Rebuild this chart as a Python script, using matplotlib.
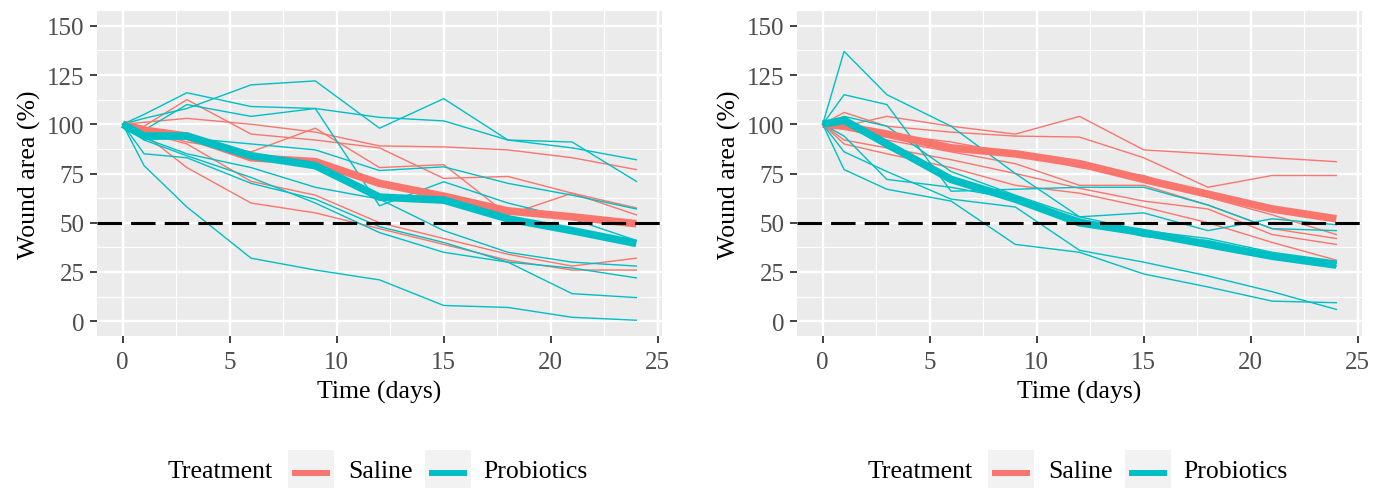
import matplotlib
matplotlib.use("Agg")
import matplotlib.pyplot as plt
from matplotlib.patches import Rectangle
from matplotlib.lines import Line2D

plt.rcParams['font.family'] = ['Liberation Serif', 'DejaVu Serif']

# sampling days
days = [0, 1, 3, 6, 9, 12, 15, 18, 21, 24]

# left panel: individual wounds (% of initial area)
saline_left = [
    [100, 101, 103, 100, 96, 89, 88.5, 87, 83, 77],
    [100, 99, 112.5, 95, 92, 88, 72.5, 73.5, 65, 54],
    [100, 97, 91, 86, 98, 78, 79.5, 54, 65, 57.5],
    [100, 96, 90, 71, 64, 50, 42, 34, 28, 32],
    [100, 95, 78, 60, 55, 47, 39, 31, 26, 26],
]
probiotics_left = [
    [100, 103, 108, 120, 122, 98, 113, 92, 91, 71],
    [100, 105, 116, 109, 108, 103.5, 101.7, 92, 88, 82],
    [100, 97, 110, 104, 108, 58.6, 70.8, 60, 52, 41],
    [100, 96, 93, 90, 87, 76.5, 78.4, 70, 64, 57],
    [100, 93, 85, 78, 68, 62, 46, 35, 30, 28],
    [100, 85, 83, 70, 62, 48, 40, 30, 27, 22],
    [100, 79, 58, 32, 26, 21, 8, 7, 2, 0.5],
    [100, 92, 84, 73, 60, 45, 35, 30, 14, 12],
]
saline_left_mean = [100, 97, 94, 83, 81, 70, 63.5, 56, 53, 49.5]
probiotics_left_mean = [100, 94, 94, 84, 79, 63, 61.5, 52, 46, 39.5]

# right panel
saline_right = [
    [100, 99, 104, 99, 95, 104, 87, 85, 83, 81],
    [100, 106, 99, 96, 94, 93.5, 83, 68, 74, 74],
    [100, 100, 95, 91, 85, 78, 74, 63, 54, 44],
    [100, 98, 92, 86, 80, 69, 69, 59, 47, 42],
    [100, 92, 88, 82, 75, 67.5, 61, 57, 44, 39],
    [100, 90, 85, 78, 69, 65, 58, 50, 40, 31],
]
probiotics_right = [
    [100, 137, 115, 99, 75, 53, 55, 46, 52, 49],
    [100, 115, 110, 66, 67, 68, 68, 59, 47, 46],
    [100, 104, 99, 76, 64, 53, 46, 42, 35, 30.5],
    [100, 102, 88, 72, 62, 52, 44, 41, 34, 29.5],
    [100, 94, 72, 68, 62, 51, 43, 40, 33, 28],
    [100, 86, 76, 62, 58, 36, 30, 23, 15, 6],
    [100, 77, 67, 61, 39, 35, 24, 17.4, 10.2, 9.4],
]
saline_right_mean = [100, 99, 95, 88, 85, 80, 72, 64.5, 57, 52]
probiotics_right_mean = [100, 102, 90, 72, 62, 50, 45, 39, 33, 28.5]

groups = ["Saline", "Probiotics"]
colors = {"Saline": "#F8766D", "Probiotics": "#00BFC4"}

W, H = 1383, 489
fig = plt.figure(figsize=(W / 100, H / 100), dpi=100)

panels = [
    (97, saline_left, probiotics_left, saline_left_mean, probiotics_left_mean),
    (797, saline_right, probiotics_right, saline_right_mean, probiotics_right_mean),
]

for x0, sal, pro, sal_m, pro_m in panels:
    ax = fig.add_axes([x0 / W, (H - 337) / H, 565 / W, 325 / H])
    ax.set_facecolor("#EBEBEB")
    for s in ax.spines.values():
        s.set_visible(False)
    ax.set_axisbelow(True)

    for row in sal:
        ax.plot(days, row, color=colors["Saline"], lw=1.0, zorder=2)
    for row in pro:
        ax.plot(days, row, color=colors["Probiotics"], lw=1.0, zorder=2)
    ax.plot(days, sal_m, color=colors["Saline"], lw=5.5, zorder=3,
            solid_capstyle="butt", solid_joinstyle="round")
    ax.plot(days, pro_m, color=colors["Probiotics"], lw=5.5, zorder=3,
            solid_capstyle="butt", solid_joinstyle="round")
    ax.axhline(50, color="black", lw=2.2, ls=(0, (8, 3)), zorder=4)

    ax.set_xlim(-1.2, 25.2)
    ax.set_ylim(-7.5, 157.5)
    ax.set_xticks([0, 5, 10, 15, 20, 25])
    ax.set_yticks([0, 25, 50, 75, 100, 125, 150])
    ax.set_xticks([2.5, 7.5, 12.5, 17.5, 22.5], minor=True)
    ax.set_yticks([12.5, 37.5, 62.5, 87.5, 112.5, 137.5], minor=True)
    ax.grid(which="major", color="white", lw=1.7)
    ax.grid(which="minor", color="white", lw=0.8)
    ax.tick_params(which="major", length=5, width=1.3, color="#333333",
                   labelsize=18, labelcolor="#4D4D4D", pad=4)
    ax.tick_params(axis="x", which="major", pad=6)
    ax.tick_params(which="minor", length=0)

    ax.set_xlabel("Time (days)", fontsize=18.5, labelpad=5)
    ax.set_ylabel("Wound area (%)", fontsize=18.5, labelpad=4)

    # legend drawn below each panel, ggplot style
    off = x0 - 97
    yc = H - 472
    fig.text((168 + off) / W, yc / H, "Treatment", fontsize=18.5,
             ha="left", va="center")
    for gx, tx, g in [(288, 348, "Saline"), (425, 483, "Probiotics")]:
        fig.patches.append(Rectangle(((gx + off) / W, (H - 489) / H), 46 / W, 38 / H,
                                     transform=fig.transFigure, facecolor="#F2F2F2",
                                     edgecolor="none"))
        fig.lines.append(Line2D([(gx + 4 + off) / W, (gx + 42 + off) / W],
                                [(H - 473.5) / H, (H - 473.5) / H],
                                transform=fig.transFigure, color=colors[g], lw=4.3,
                                solid_capstyle="butt"))
        fig.text((tx + off) / W, yc / H, g, fontsize=18.5, ha="left", va="center")

fig.savefig("out.png", dpi=100)
